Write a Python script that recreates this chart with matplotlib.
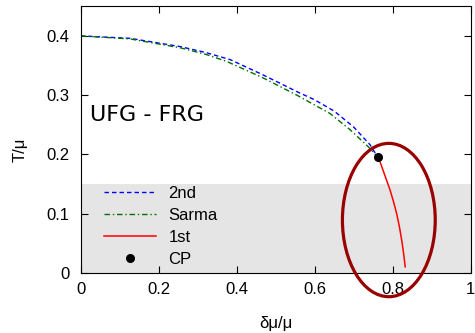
import matplotlib
matplotlib.use("Agg")
import matplotlib.pyplot as plt
from matplotlib.patches import Ellipse

plt.rcParams['font.family'] = ['Liberation Sans', 'DejaVu Sans']

# curves
x_2nd = [0.0, 0.126, 0.255, 0.320, 0.383, 0.468, 0.554, 0.60, 0.65, 0.70, 0.742, 0.761]
t_2nd = [0.400, 0.396, 0.382, 0.372, 0.360, 0.334, 0.306, 0.292, 0.273, 0.246, 0.216, 0.196]

x_sarma = [0.0, 0.126, 0.255, 0.320, 0.374, 0.468, 0.554, 0.639, 0.690, 0.737, 0.761]
t_sarma = [0.400, 0.395, 0.380, 0.369, 0.357, 0.329, 0.300, 0.269, 0.242, 0.213, 0.196]

x_1st = [0.761, 0.766, 0.779, 0.793, 0.802, 0.810, 0.817, 0.823, 0.828, 0.832]
t_1st = [0.196, 0.190, 0.166, 0.140, 0.120, 0.100, 0.078, 0.055, 0.032, 0.010]

cp_x = [0.761]
cp_y = [0.196]

band_top = 0.15
ring_center = (0.790, 0.089)
ring_size = (0.238, 0.259)

xticks = [0, 0.2, 0.4, 0.6, 0.8, 1]
xticklabels = ['0', '0.2', '0.4', '0.6', '0.8', '1']
yticks = [0, 0.1, 0.2, 0.3, 0.4]
yticklabels = ['0', '0.1', '0.2', '0.3', '0.4']

fig = plt.figure(figsize=(4.75, 3.33), dpi=100)
ax = fig.add_axes([0.170, 0.181, 0.821, 0.800])

ax.axhspan(0, band_top, color='#e5e5e5', lw=0, zorder=0)

ax.plot(x_2nd, t_2nd, color='#0000ff', lw=1.0, dashes=(3.2, 2.2), label='2nd')
ax.plot(x_sarma, t_sarma, color='#007000', lw=1.0, dashes=(4, 2, 1, 2), label='Sarma')
ax.plot(x_1st, t_1st, color='#ff0000', lw=1.1, label='1st')
ax.plot(cp_x, cp_y, 'o', color='black', ms=5.5, ls='none', label='CP', zorder=5)

ring = Ellipse(ring_center, ring_size[0], ring_size[1], fill=False,
               edgecolor='#990000', lw=2.3, clip_on=False, zorder=6)
ax.add_patch(ring)

ax.set_xlim(0, 1)
ax.set_ylim(0, 0.45)
ax.set_xticks(xticks)
ax.set_xticklabels(xticklabels)
ax.set_yticks(yticks)
ax.set_yticklabels(yticklabels)
ax.tick_params(direction='in', top=True, right=True, length=5, labelsize=12)
ax.tick_params(axis='y', pad=8)
ax.tick_params(axis='x', pad=7)

ax.set_xlabel('δμ/μ', fontsize=12, labelpad=13)
ax.set_ylabel('T/μ', fontsize=12)
ax.yaxis.set_label_coords(-0.135, 0.46)

ax.text(0.024, 0.256, 'UFG - FRG', fontsize=16, family='DejaVu Sans')

ax.legend(loc='upper left', bbox_to_anchor=(0.06, 0.327), frameon=False,
          fontsize=12, handlelength=3.1, handletextpad=0.75, labelspacing=0.42,
          borderpad=0, borderaxespad=0)

fig.savefig('out.png', dpi=100)
